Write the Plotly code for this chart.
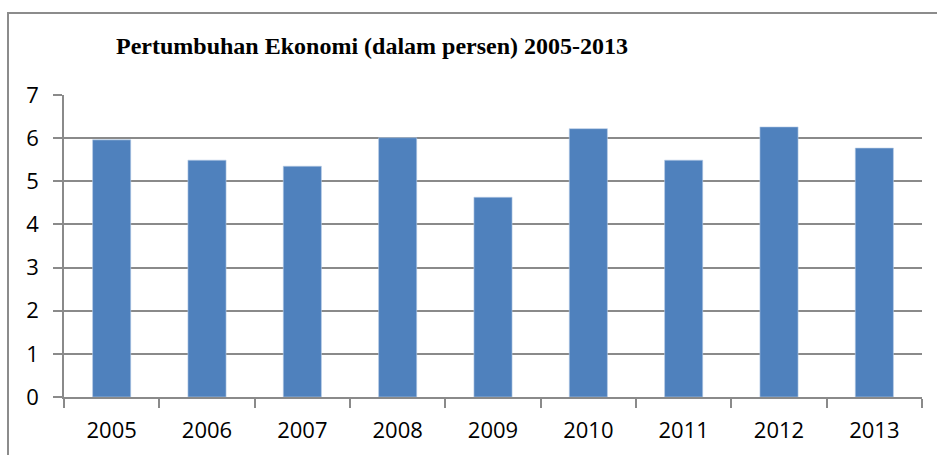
import plotly.graph_objects as go

years = ["2005", "2006", "2007", "2008", "2009", "2010", "2011", "2012", "2013"]
growth = [5.96, 5.49, 5.35, 6.01, 4.63, 6.22, 5.49, 6.26, 5.77]
y_ticks = [0, 1, 2, 3, 4, 5, 6, 7]
title_text = "Pertumbuhan Ekonomi (dalam persen) 2005-2013"

W, H = 937, 455
ml, mr, mt, mb = 64, 15, 95, 58
pw, ph = W - ml - mr, H - mt - mb

def px_to_paper_x(px):
    return (px - ml) / pw

def px_to_paper_y(py):
    return (H - mb - py) / ph

grid_col = "#8a8a8a"
tick_font = dict(family="Open Sans, Liberation Sans, sans-serif", size=22, color="#000000")

fig = go.Figure()
fig.add_trace(go.Bar(
    x=years, y=growth,
    marker=dict(color="#4F81BD", line=dict(color="#B9CDE5", width=0.6)),
    width=0.4,
))

fig.update_layout(
    width=W, height=H,
    margin=dict(l=ml, r=mr, t=mt, b=mb, pad=0),
    paper_bgcolor="white", plot_bgcolor="white",
    showlegend=False,
    bargap=0.6,
    xaxis=dict(
        type="category",
        range=[-0.5, len(years) - 0.5],
        showgrid=False,
        showline=True, linecolor=grid_col, linewidth=1.5,
        ticks="outside", tickson="boundaries", ticklen=9, tickcolor=grid_col, tickwidth=1.5,
        tickfont=tick_font,
        ticklabelstandoff=13,
        fixedrange=True,
    ),
    yaxis=dict(
        range=[0, 7],
        tickvals=y_ticks,
        showgrid=True, gridcolor=grid_col, gridwidth=1.5,
        zeroline=False,
        showline=True, linecolor=grid_col, linewidth=1.5,
        ticks="outside", ticklen=9, tickcolor=grid_col, tickwidth=1.5,
        tickfont=tick_font,
        ticklabelstandoff=10,
        fixedrange=True,
    ),
    annotations=[dict(
        text="<b>" + title_text + "</b>",
        xref="paper", yref="paper",
        x=px_to_paper_x(372), y=px_to_paper_y(46),
        xanchor="center", yanchor="middle",
        showarrow=False,
        font=dict(family="Liberation Serif, Times New Roman, serif", size=24, color="#000000"),
    )],
    shapes=[dict(
        type="rect", xref="paper", yref="paper",
        x0=px_to_paper_x(8), x1=px_to_paper_x(960),
        y0=px_to_paper_y(480), y1=px_to_paper_y(13),
        line=dict(color="#8c8c8c", width=2),
        fillcolor="rgba(0,0,0,0)",
        layer="below",
    )],
)

fig.write_html("out.html")
